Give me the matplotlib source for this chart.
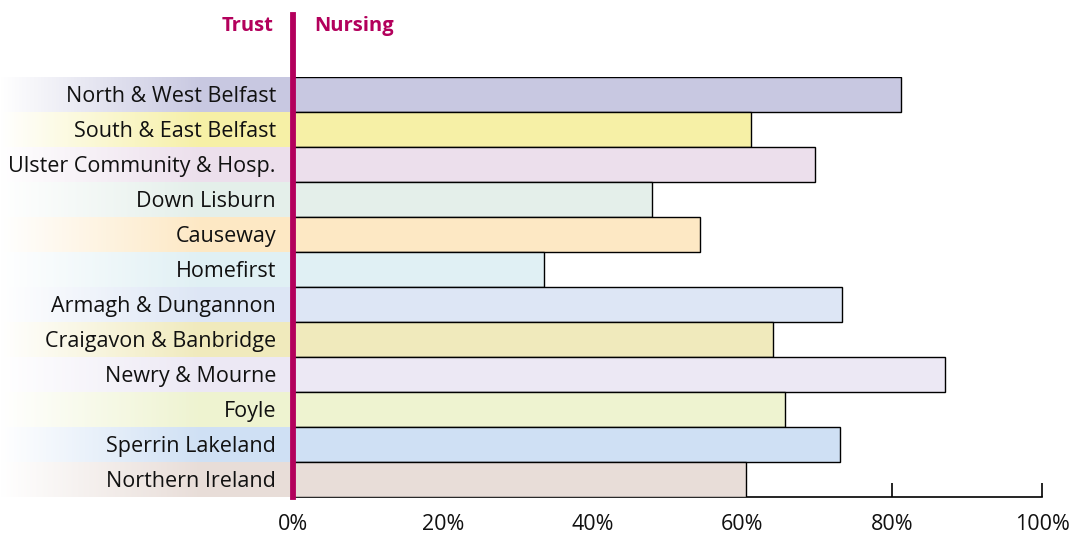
import numpy as np
import matplotlib
matplotlib.use("Agg")
import matplotlib.pyplot as plt
from matplotlib.colors import to_rgb

# data
trusts = ["North & West Belfast", "South & East Belfast", "Ulster Community & Hosp.",
          "Down Lisburn", "Causeway", "Homefirst", "Armagh & Dungannon",
          "Craigavon & Banbridge", "Newry & Mourne", "Foyle", "Sperrin Lakeland",
          "Northern Ireland"]
nursing = [81.2, 61.1, 69.7, 47.9, 54.3, 33.5, 73.3, 64.1, 87.0, 65.7, 73.0, 60.5]
colours = ["#c8c8e1", "#f6f0a6", "#ecdfec", "#e4efea", "#fde8c4", "#e0f0f4",
           "#dde6f5", "#f0eabc", "#ece8f4", "#eef3d0", "#cfe0f4", "#e8ddd8"]
xticks = [0, 20, 40, 60, 80, 100]

MAGENTA = "#b3005c"
W, H = 1071, 536
plt.rcParams['font.family'] = ['Open Sans', 'DejaVu Sans']

fig = plt.figure(figsize=(W / 100, H / 100), dpi=100)
bot = (H - 497) / H
hgt = (497 - 77) / H
ax = fig.add_axes([293 / W, bot, (1042 - 293) / W, hgt])
n = len(trusts)
y = np.arange(n)

ax.barh(y, nursing, height=1.0, color=colours, edgecolor="black", linewidth=1.0, zorder=3)
ax.set_xlim(0, 100)
ax.set_ylim(n - 0.5, -0.5)
for s in ["top", "right", "left"]:
    ax.spines[s].set_visible(False)
ax.spines["bottom"].set_linewidth(1.2)
ax.set_yticks([])
ax.set_xticks(xticks)
ax.set_xticklabels([f"{v}%" for v in xticks], fontsize=15.5, color="#111111")
ax.tick_params(axis="x", direction="in", length=10, width=1.2, pad=12)

# gradient behind the trust names
lab = fig.add_axes([0, bot, 290 / W, hgt])
ncol = 300
ramp = np.clip(np.linspace(0, 1, ncol) / 0.7, 0, 1)
img = np.ones((n, ncol, 3))
for i, c in enumerate(colours):
    rgb = np.array(to_rgb(c))
    img[i] = 1 - ramp[:, None] * (1 - rgb)
lab.imshow(img, aspect="auto", extent=[0, 1, n - 0.5, -0.5], interpolation="nearest")
lab.set_xlim(0, 1)
lab.set_ylim(n - 0.5, -0.5)
lab.axis("off")
for i, name in enumerate(trusts):
    lab.text(276 / 290, i + 0.06, name, ha="right", va="center", fontsize=15.5,
             color="#111111")

# magenta divider and headers
fig.add_artist(plt.Line2D([293 / W, 293 / W], [(H - 15) / H, bot], color=MAGENTA,
                          linewidth=4.2, zorder=10))
fig.text(273 / W, (H - 26) / H, "Trust", ha="right", va="center", fontsize=14.5,
         fontweight="bold", color=MAGENTA)
fig.text(314 / W, (H - 26) / H, "Nursing", ha="left", va="center", fontsize=14.5,
         fontweight="bold", color=MAGENTA)

fig.savefig("out.png", dpi=100)
